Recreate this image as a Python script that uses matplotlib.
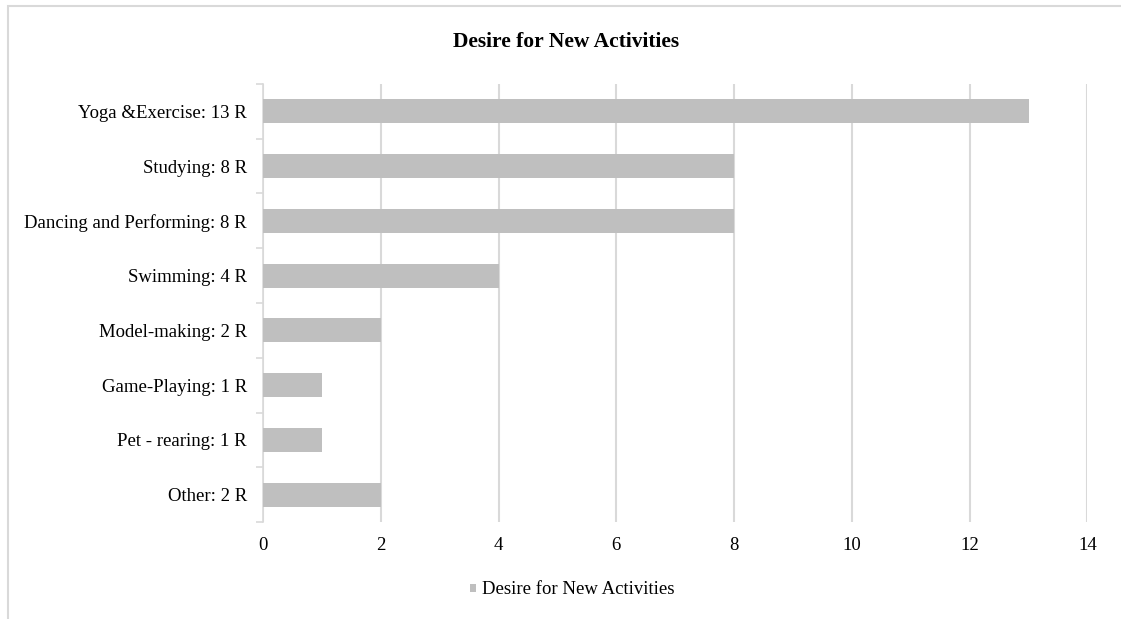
import numpy as np
import matplotlib.pyplot as plt
from matplotlib.patches import Rectangle

categories = ["Yoga &Exercise: 13 R", "Studying: 8 R", "Dancing and Performing: 8 R",
              "Swimming: 4 R", "Model-making: 2 R", "Game-Playing: 1 R",
              "Pet - rearing: 1 R", "Other: 2 R"]
values = [13, 8, 8, 4, 2, 1, 1, 2]
x_ticks = [0, 2, 4, 6, 8, 10, 12, 14]
series_name = "Desire for New Activities"

plt.rcParams['font.family'] = ['Liberation Serif', 'DejaVu Serif']

fig = plt.figure(figsize=(11.21, 6.19), dpi=100)
ax = fig.add_axes([0.2346, 0.1567, 0.7355, 0.7076])

# outer chart frame (runs off the right and bottom edges)
fig.patches.append(Rectangle((8 / 1121, -0.05), 1.2, 1 - 6 / 619 + 0.05, transform=fig.transFigure,
                             fill=False, edgecolor='#d9d9d9', linewidth=1.5))

y = np.arange(len(categories))
ax.barh(y, values, height=0.44, color='#bfbfbf', label=series_name, zorder=3)

ax.set_xlim(0, 14)
ax.set_ylim(len(categories) - 0.5, -0.5)
ax.set_xticks(x_ticks)
ax.set_yticks(y)
ax.set_yticklabels(categories)
ax.set_yticks(np.arange(-0.5, len(categories), 1), minor=True)

ax.grid(axis='x', color='#d9d9d9', linewidth=1.5, zorder=0)
for s in ['top', 'right', 'bottom']:
    ax.spines[s].set_visible(False)
ax.spines['left'].set_color('#d9d9d9')
ax.spines['left'].set_linewidth(1.2)

ax.tick_params(axis='x', length=0, labelsize=13.5, pad=10.5)
ax.tick_params(axis='y', which='major', length=0, labelsize=13.5, pad=11.5)
ax.tick_params(axis='y', which='minor', length=5, color='#d9d9d9', width=1.2)

fig.text(566 / 1121, 1 - 42 / 619, "Desire for New Activities", ha='center', va='center',
         fontsize=15.5, fontweight='bold')

leg = ax.legend(loc='center', bbox_to_anchor=(0.375, -0.155), frameon=False, fontsize=13.5,
                handlelength=0.3, handleheight=0.3, handletextpad=0.3)

fig.savefig("out.png", dpi=100)
